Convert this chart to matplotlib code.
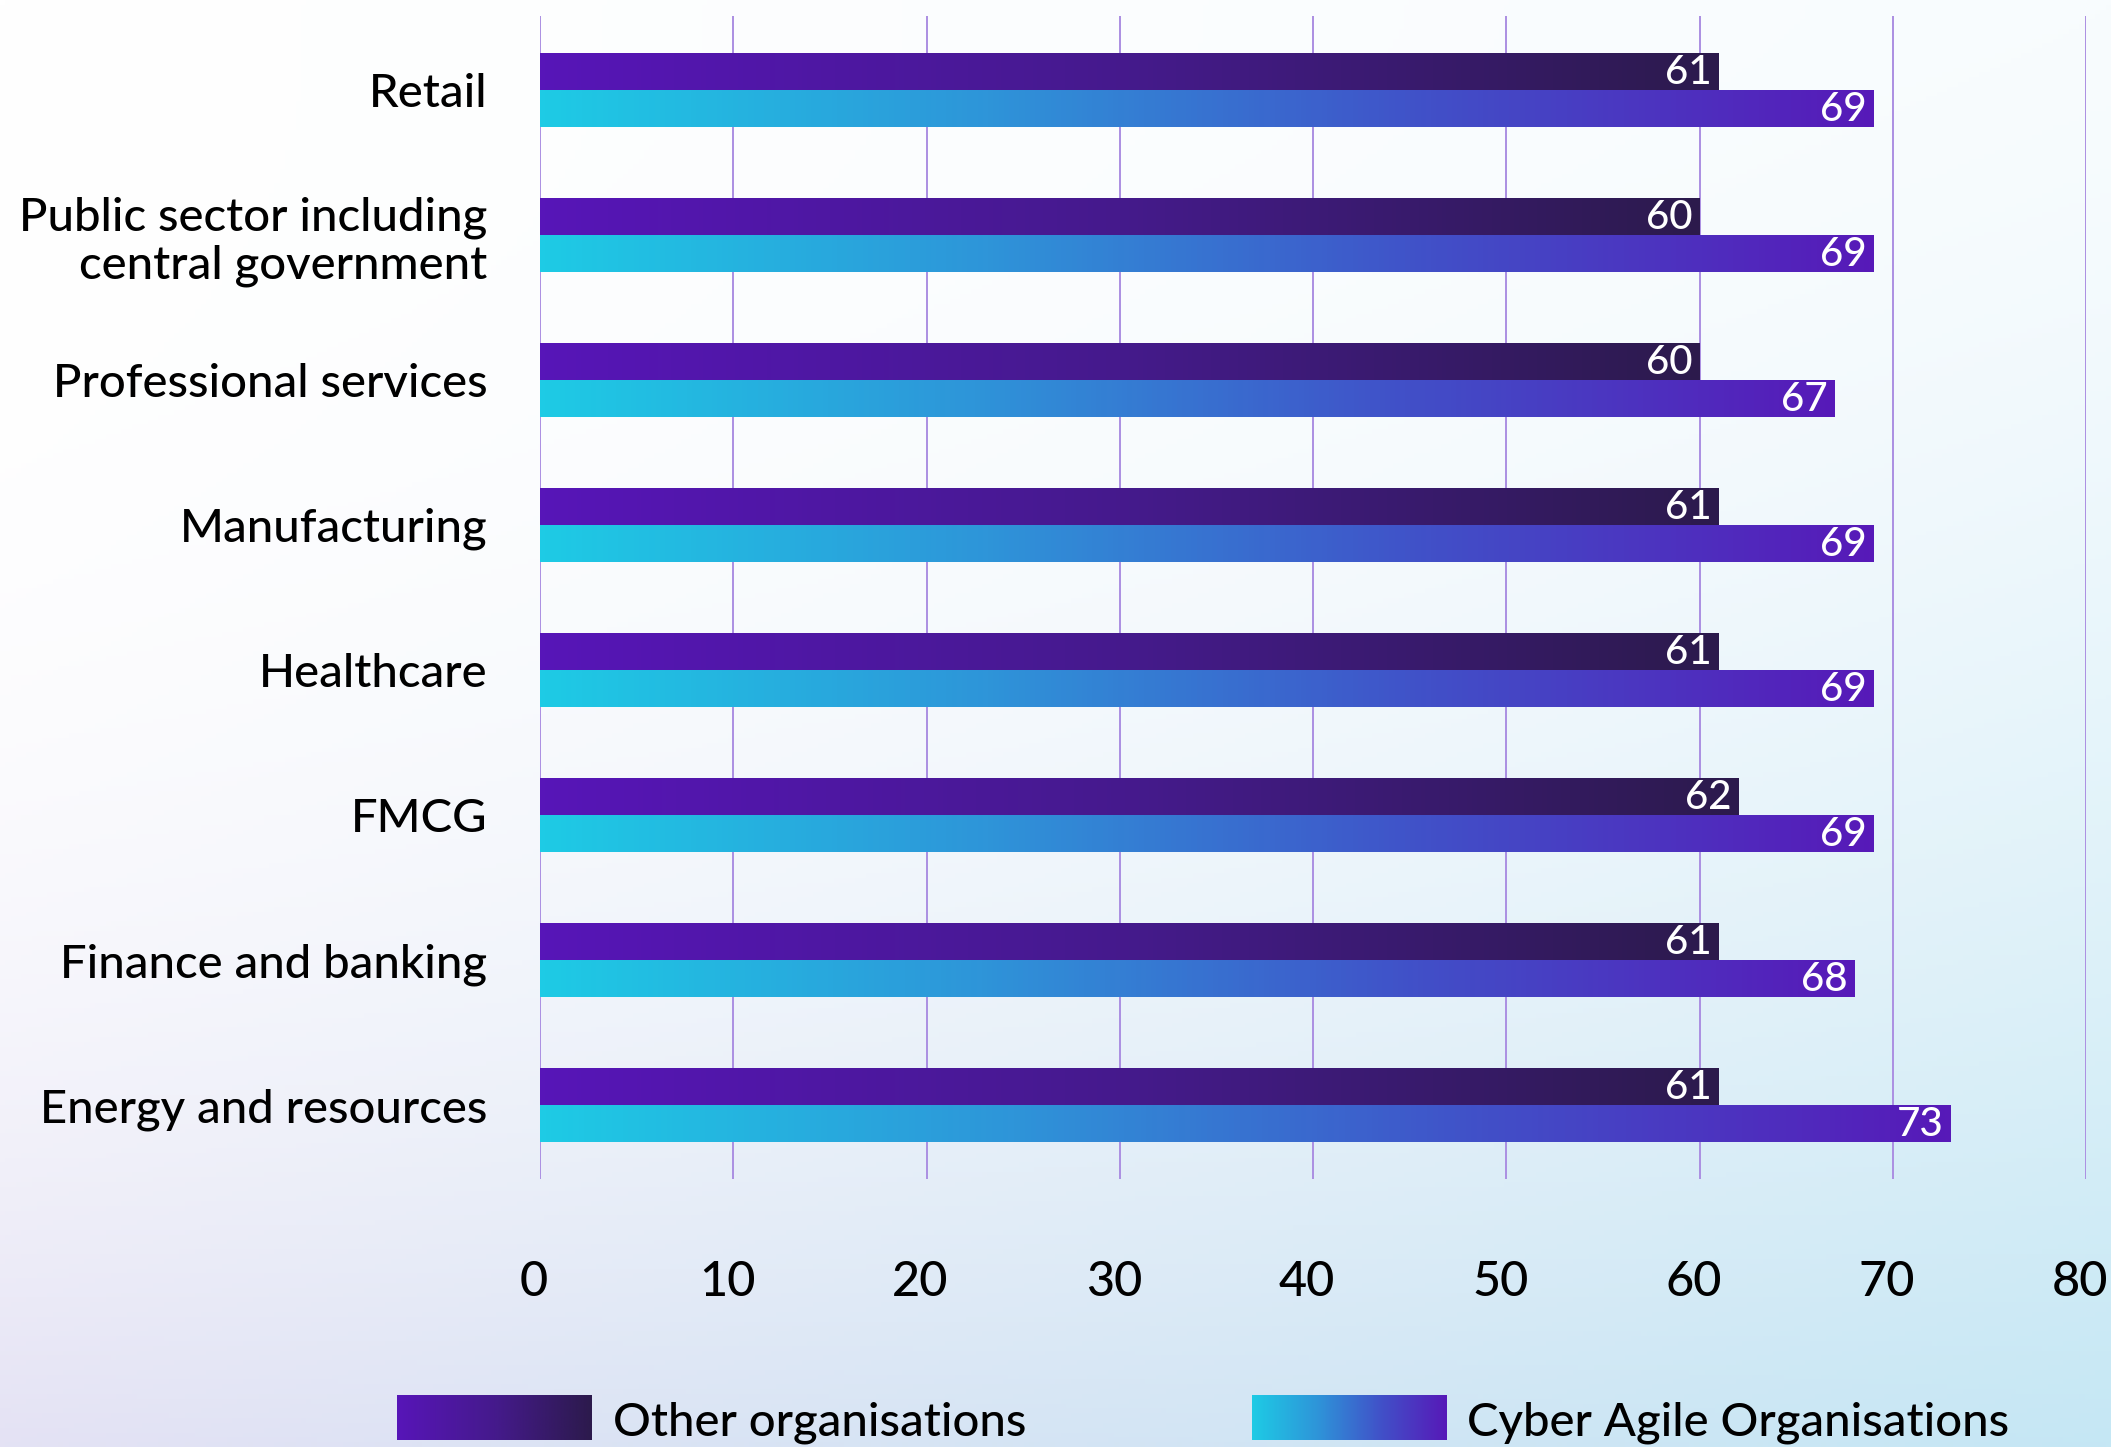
import numpy as np
import matplotlib.pyplot as plt
from matplotlib.colors import LinearSegmentedColormap, to_rgb
from matplotlib.transforms import ScaledTranslation

sectors = ["Retail", "Public sector including\ncentral government", "Professional services",
           "Manufacturing", "Healthcare", "FMCG", "Finance and banking", "Energy and resources"]
other_orgs = [61, 60, 60, 61, 61, 62, 61, 61]
cyber_agile = [69, 69, 67, 69, 69, 69, 68, 73]
x_ticks = [0, 10, 20, 30, 40, 50, 60, 70, 80]
series_names = ["Other organisations", "Cyber Agile Organisations"]

plt.rcParams['font.family'] = ['Lato', 'DejaVu Sans']
plt.rcParams['font.weight'] = 'medium'

other_cmap = LinearSegmentedColormap.from_list("other", ["#5715b8", "#451a8c", "#2c1a4c"])
agile_cmap = LinearSegmentedColormap.from_list("agile", ["#1ecbe5", "#2e95d9", "#4150c8", "#5719b8"])

W, H = 2111, 1447
fig = plt.figure(figsize=(W / 100, H / 100), dpi=100)

# soft background: white top-left, lavender bottom-left, pale cyan bottom-right
bg = fig.add_axes([0, 0, 1, 1], zorder=-10)
gy, gx = np.mgrid[0:1:300j, 0:1:400j]
tl, tr = np.array(to_rgb("#ffffff")), np.array(to_rgb("#f8fcfe"))
bl, br = np.array(to_rgb("#e4e2f4")), np.array(to_rgb("#c5e7f4"))
p = 3.0 - 1.5 * gx
t = (gy ** p)[..., None]
top = tl * (1 - gx[..., None]) + tr * gx[..., None]
bot = bl * (1 - gx[..., None]) + br * gx[..., None]
bg.imshow(top * (1 - t) + bot * t, aspect='auto', extent=[0, 1, 0, 1], origin='upper')
bg.axis('off')

ax = fig.add_axes([540 / W, 1 - 1179 / H, (2086 - 540) / W, (1179 - 16) / H])
ax.patch.set_alpha(0)

y = np.arange(len(sectors))
h = 0.255
grad = np.linspace(0, 1, 256).reshape(1, -1)

for vals, offs, cmap in [(other_orgs, -h / 2, other_cmap), (cyber_agile, h / 2, agile_cmap)]:
    bars = ax.barh(y + offs, vals, height=h, color='none', edgecolor='none', zorder=3)
    for bar, v, yy in zip(bars, vals, y + offs):
        im = ax.imshow(grad, cmap=cmap, aspect='auto', zorder=3,
                       extent=[0, v, yy + h / 2, yy - h / 2])
        im.set_clip_path(bar)
        ax.annotate(str(v), (v, yy), xytext=(-5, -1), textcoords='offset points',
                    ha='right', va='center', color='white', fontsize=29, zorder=5)

ax.set_xlim(0, 80)
ax.set_ylim(7.51, -0.51)
ax.set_xticks(x_ticks)
ax.set_yticks(y)
ax.set_yticklabels(sectors, ha='right', linespacing=1.15)
ax.grid(axis='x', color='#ab8fe2', lw=1.4, zorder=0)
ax.set_axisbelow(True)
for s in ax.spines.values():
    s.set_visible(False)
ax.tick_params(axis='x', length=0, pad=58, labelsize=35)
ax.tick_params(axis='y', length=0, pad=38, labelsize=34)
shift = ScaledTranslation(-6 / 100, 0, fig.dpi_scale_trans)
for lbl in ax.get_xticklabels():
    lbl.set_transform(lbl.get_transform() + shift)

# legend swatches along the bottom edge
for (x0, tx), cmap, name in zip([(397, 613), (1252, 1467)], [other_cmap, agile_cmap], series_names):
    sw = fig.add_axes([x0 / W, 1 - 1440 / H, 195 / W, 45 / H])
    sw.imshow(grad, cmap=cmap, aspect='auto')
    sw.axis('off')
    fig.text(tx / W, 1 - 1423 / H, name, ha='left', va='center', fontsize=34)

fig.savefig("out.png", dpi=100)
